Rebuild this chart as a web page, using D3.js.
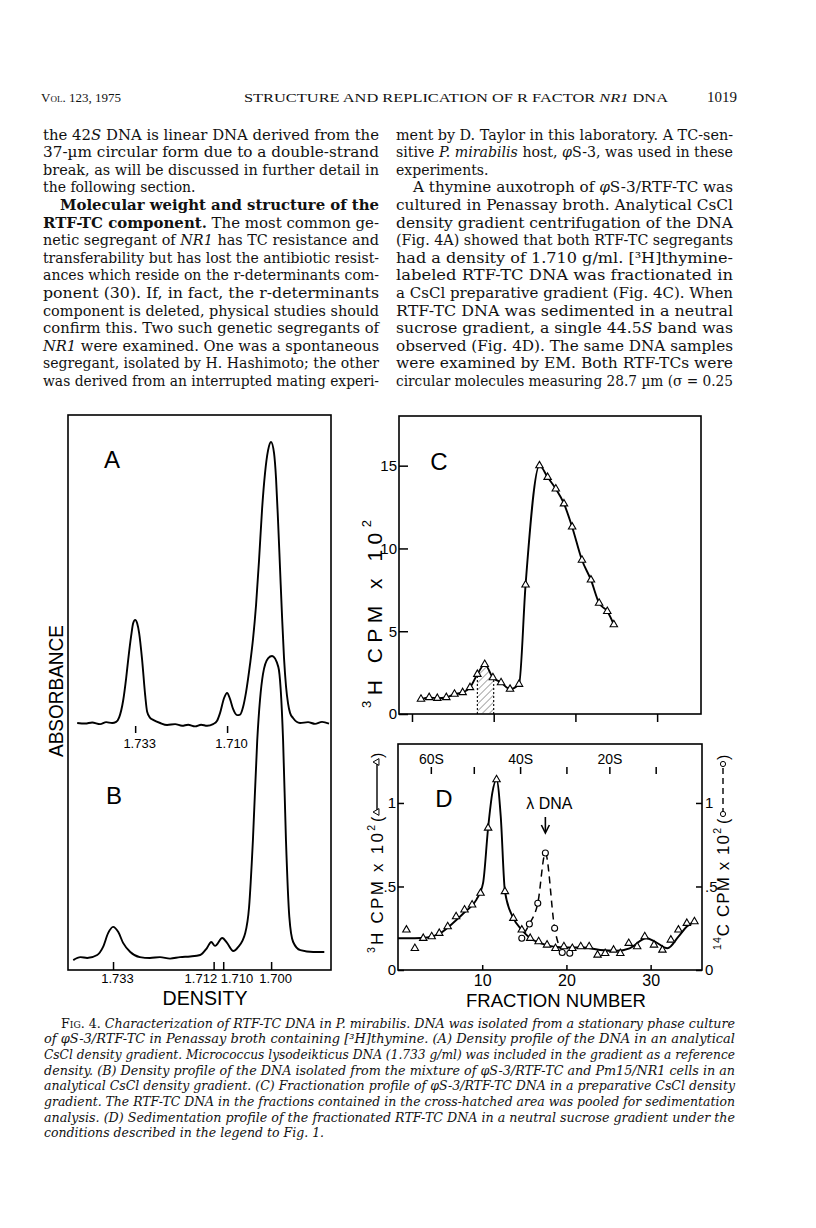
<!DOCTYPE html>
<html>
<head>
<meta charset="utf-8">
<script src="https://cdn.jsdelivr.net/npm/d3@7"></script>
<style>
  body { margin: 0; background: #fff; }
  svg { display: block; }
</style>
</head>
<body>
<div id="page"></div>
<script>
"use strict";

// ---------- panel A: analytical CsCl scan (density g/ml, absorbance in arbitrary units)
var scanADensity = [1.7475, 1.7455, 1.74375, 1.74175, 1.74025, 1.73875, 1.73775, 1.737, 1.736, 1.73525,
    1.73475, 1.734, 1.7335, 1.733, 1.7325, 1.732, 1.73125, 1.7305, 1.730, 1.72925, 1.7285, 1.72675, 1.725,
    1.723, 1.72125, 1.71975, 1.718, 1.7165, 1.715, 1.7135, 1.7125, 1.71175, 1.71075, 1.710, 1.70925, 1.7085,
    1.7075, 1.70675, 1.706, 1.70525, 1.70425, 1.7035, 1.70275, 1.702, 1.70125, 1.7005, 1.69975, 1.699,
    1.69825, 1.69775, 1.69725, 1.69675, 1.69625, 1.69575, 1.69525, 1.69475, 1.69425, 1.6935, 1.69175,
    1.68975, 1.688, 1.68625, 1.6845];
var scanAAbs = [0.000, -0.002, 0.002, -0.004, 0.003, 0.000, 0.004, 0.02, 0.08, 0.16,
    0.224, 0.31, 0.355, 0.367, 0.355, 0.32, 0.224, 0.10, 0.04, 0.018, 0.011, 0.000, -0.007,
    -0.004, -0.010, -0.006, -0.012, -0.006, -0.010, -0.004, 0.008, 0.036, 0.089, 0.107, 0.085, 0.05,
    0.028, 0.03, 0.057, 0.11, 0.21, 0.30, 0.42, 0.58, 0.76, 0.89, 0.97, 1.0,
    0.96, 0.87, 0.72, 0.55, 0.38, 0.23, 0.13, 0.07, 0.036, 0.018, 0.000,
    0.003, -0.003, 0.004, -0.002];
var scanAMarks = [1.733, 1.710];

// ---------- panel B: mixture of the two strains
var scanBDensity = [1.7413, 1.7398, 1.7384, 1.7363, 1.7351, 1.7340, 1.7330, 1.7319, 1.7309, 1.7294,
    1.7274, 1.7253, 1.7232, 1.7211, 1.7190, 1.7169, 1.7148, 1.7134, 1.7125, 1.7117, 1.7102, 1.7092,
    1.7079, 1.7069, 1.7054, 1.7046, 1.7038, 1.7029, 1.7017, 1.7006, 1.6998, 1.6985, 1.6975, 1.6969,
    1.6962, 1.6954, 1.6939, 1.6912, 1.6889];
var scanBAbs = [-0.007, 0.003, 0.000, 0.010, 0.036, 0.083, 0.103, 0.086, 0.050, 0.020,
    0.003, 0.000, 0.003, -0.002, 0.003, 0.005, 0.010, 0.033, 0.053, 0.040, 0.066, 0.050,
    0.023, 0.036, 0.083, 0.169, 0.39, 0.72, 0.94, 0.993, 1.0, 0.964, 0.72, 0.39,
    0.136, 0.053, 0.026, 0.020, 0.020];
var scanBMarks = [1.733, 1.712, 1.710, 1.700];

// ---------- panel C: preparative CsCl gradient, 3H cpm x 10^2
var fracC = [1.1, 2.1, 3.1, 4.2, 5.2, 6.2, 7.1, 8.0, 8.9, 9.9, 10.9, 12.0, 13.1, 13.9, 15.6, 16.6,
    17.6, 18.6, 19.6, 20.8, 21.9, 22.9, 23.9, 24.7];
var cpmC = [0.9, 1.0, 0.95, 1.0, 1.2, 1.3, 1.6, 2.4, 3.0, 2.2, 1.9, 1.5, 1.8, 7.8, 15.0, 14.3,
    13.6, 12.7, 11.3, 9.3, 8.1, 6.7, 6.2, 5.4];
var pooledFractions = [8, 10];
var ticksC = [0, 10, 20, 30];
var yTicksC = [0, 5, 10, 15];

// ---------- panel D: neutral sucrose gradient
var fracD3H = [1.0, 2.0, 3.0, 4.0, 4.9, 5.9, 6.9, 7.9, 8.8, 9.8, 10.7, 11.7, 12.7, 13.7, 14.7, 15.7,
    16.7, 17.7, 18.7, 19.7, 20.7, 21.7, 22.7, 23.7, 24.6, 25.6, 26.4, 27.4, 28.4, 29.3, 30.4, 31.4,
    32.4, 33.3, 34.3, 35.2];
var cpmD3H = [0.24, 0.13, 0.19, 0.20, 0.22, 0.26, 0.32, 0.36, 0.39, 0.46, 0.85, 1.14, 0.47, 0.31, 0.24, 0.19,
    0.17, 0.15, 0.13, 0.14, 0.13, 0.14, 0.14, 0.09, 0.10, 0.12, 0.10, 0.16, 0.14, 0.20, 0.15, 0.12,
    0.18, 0.24, 0.28, 0.29];
// the hand drawn smooth curve through the 3H points
var fitD3HFrac = [0, 2, 3.5, 5, 6.5, 8, 9.3, 10.1, 10.7, 11.2, 11.7, 12.2, 12.7, 13.7, 14.7, 15.7, 17,
    18.5, 20, 22, 24, 26, 27.5, 29.5, 30.5, 32, 33.3, 34.3, 35.2];
var fitD3H = [0.19, 0.19, 0.195, 0.22, 0.28, 0.35, 0.42, 0.52, 0.85, 1.06, 1.14, 0.92, 0.47, 0.31, 0.24, 0.19, 0.16,
    0.14, 0.135, 0.135, 0.12, 0.115, 0.13, 0.19, 0.17, 0.13, 0.2, 0.26, 0.29];
var fracD14C = [14.7, 15.6, 16.6, 17.5, 18.6, 19.5, 20.4];
var cpmD14C = [0.19, 0.275, 0.40, 0.70, 0.25, 0.105, 0.10];
var fitD14CFrac = [15.0, 15.6, 16.6, 17.5, 18.6, 19.2];
var fitD14C = [0.22, 0.275, 0.40, 0.70, 0.25, 0.13];
var sMarkFractions = [3.9, 9.0, 14.5, 20.0, 25.1, 30.6];
var sMarkLabels = ["60S", "", "40S", "", "20S", ""];
var ticksD = [10, 20, 30];
var yTicksD = [0, 0.5, 1];

// ---------- page text  (**bold**, *italic*, ^small caps^, "> " indent, trailing ¶ = not justified)
var headerLeft = "^Vol.^ 123, 1975";
var headerTitle = "STRUCTURE AND REPLICATION OF R FACTOR *NR1* DNA";
var headerPage = "1019";
var leftColumn = [
    "the 42*S* DNA is linear DNA derived from the",
    "37-µm circular form due to a double-strand",
    "break, as will be discussed in further detail in",
    "the following section.¶",
    "> **Molecular weight and structure of the**",
    "**RTF-TC component.** The most common ge-",
    "netic segregant of *NR1* has TC resistance and",
    "transferability but has lost the antibiotic resist-",
    "ances which reside on the r-determinants com-",
    "ponent (30). If, in fact, the r-determinants",
    "component is deleted, physical studies should",
    "confirm this. Two such genetic segregants of",
    "*NR1* were examined. One was a spontaneous",
    "segregant, isolated by H. Hashimoto; the other",
    "was derived from an interrupted mating experi-"
];
var rightColumn = [
    "ment by D. Taylor in this laboratory. A TC-sen-",
    "sitive *P. mirabilis* host, *φ*S-3, was used in these",
    "experiments.¶",
    "> A thymine auxotroph of *φ*S-3/RTF-TC was",
    "cultured in Penassay broth. Analytical CsCl",
    "density gradient centrifugation of the DNA",
    "(Fig. 4A) showed that both RTF-TC segregants",
    "had a density of 1.710 g/ml. [³H]thymine-",
    "labeled RTF-TC DNA was fractionated in",
    "a CsCl preparative gradient (Fig. 4C). When",
    "RTF-TC DNA was sedimented in a neutral",
    "sucrose gradient, a single 44.5*S* band was",
    "observed (Fig. 4D). The same DNA samples",
    "were examined by EM. Both RTF-TCs were",
    "circular molecules measuring 28.7 µm (σ = 0.25"
];
var caption = [
    "> ^Fig. 4.^ Characterization of RTF-TC DNA in P. mirabilis. DNA was isolated from a stationary phase culture",
    "of φS-3/RTF-TC in Penassay broth containing [³H]thymine. (A) Density profile of the DNA in an analytical",
    "CsCl density gradient. Micrococcus lysodeikticus DNA (1.733 g/ml) was included in the gradient as a reference",
    "density. (B) Density profile of the DNA isolated from the mixture of φS-3/RTF-TC and Pm15/NR1 cells in an",
    "analytical CsCl density gradient. (C) Fractionation profile of φS-3/RTF-TC DNA in a preparative CsCl density",
    "gradient. The RTF-TC DNA in the fractions contained in the cross-hatched area was pooled for sedimentation",
    "analysis. (D) Sedimentation profile of the fractionated RTF-TC DNA in a neutral sucrose gradient under the",
    "conditions described in the legend to Fig. 1.¶"
];

// ================================================================ drawing
var W = 816, H = 1228;
var serif = "'DejaVu Serif', serif";
var times = "'Liberation Serif', serif";
var sans = "'Liberation Sans', Arial, sans-serif";

var svg = d3.select("#page").append("svg")
    .attr("width", W)
    .attr("height", H)
    .style("background", "#fff");

// one line of typeset text, optionally justified with textLength
function textLine(g, x, y, width, line, opt) {
    var indent = 0, justify = true, s = line;
    if (s.indexOf("> ") === 0) { indent = 17; s = s.slice(2); }
    if (s.slice(-1) === "¶") { justify = false; s = s.slice(0, -1); }
    var t = g.append("text")
        .attr("x", x + indent)
        .attr("y", y)
        .attr("font-family", opt.family)
        .attr("font-size", opt.size)
        .attr("font-style", opt.italic ? "italic" : "normal")
        .attr("fill", "#111");
    s.split(/(\*\*[^*]+\*\*|\*[^*]+\*|\^[^^]+\^)/).forEach(function(part) {
        if (!part) return;
        var ts = t.append("tspan");
        if (part.indexOf("**") === 0) {
            ts.attr("font-weight", "bold").text(part.slice(2, -2));
        } else if (part[0] === "*") {
            ts.attr("font-style", opt.italic ? "normal" : "italic").text(part.slice(1, -1));
        } else if (part[0] === "^") {
            ts.attr("font-style", "normal").style("font-variant", "small-caps").text(part.slice(1, -1));
        } else {
            ts.text(part);
        }
    });
    if (justify && width) {
        t.attr("textLength", width - indent).attr("lengthAdjust", "spacingAndGlyphs");
    }
    return t;
}

// ---- running header
var head = svg.append("g");
textLine(head, 41, 102, 95, headerLeft + "¶", {family: times, size: 13});
textLine(head, 244, 102, 424, headerTitle, {family: times, size: 13});
head.append("text").attr("x", 737).attr("y", 102).attr("text-anchor", "end")
    .attr("font-family", times).attr("font-size", 15).attr("fill", "#111").text(headerPage);

// ---- two text columns
var body = svg.append("g");
leftColumn.forEach(function(l, i) {
    textLine(body, 43, 139.5 + i * 17.6, 336, l, {family: serif, size: 14});
});
rightColumn.forEach(function(l, i) {
    textLine(body, 396, 139.5 + i * 17.6, 337, l, {family: serif, size: 14});
});

// ---- caption
var cap = svg.append("g");
caption.forEach(function(l, i) {
    textLine(cap, 44, 1027.5 + i * 15.7, 691, l, {family: serif, size: 12.5, italic: true});
});

// ---------- helpers for the figure
function box(x0, y0, x1, y1) {
    svg.append("rect")
        .attr("x", x0).attr("y", y0)
        .attr("width", x1 - x0).attr("height", y1 - y0)
        .attr("fill", "none").attr("stroke", "#000").attr("stroke-width", 1.6);
}

function styleAxis(g, size) {
    g.select(".domain").remove();
    g.attr("font-family", sans).attr("font-size", size);
    g.selectAll("line").attr("stroke", "#000").attr("stroke-width", 1.5);
    g.selectAll("text").attr("fill", "#000");
}

function panelLetter(x, y, s) {
    svg.append("text")
        .attr("x", x).attr("y", y)
        .attr("text-anchor", "middle")
        .attr("dominant-baseline", "central")
        .attr("font-family", sans).attr("font-size", 24)
        .text(s);
}

// rotated title; parts: [{t:"H"}, {sup:"3"}] ; returns group in rotated frame
function rotLabel(x, yStart, parts, size, len) {
    var g = svg.append("g").attr("transform", "translate(" + x + "," + yStart + ") rotate(-90)");
    var t = g.append("text")
        .attr("x", 0).attr("y", 0)
        .attr("dominant-baseline", "central")
        .attr("font-family", sans).attr("font-size", size)
        .attr("textLength", len).attr("lengthAdjust", "spacing");
    parts.forEach(function(p) {
        if (p.sup) {
            t.append("tspan").attr("font-size", size * 0.62).attr("dy", -size * 0.38).text(p.sup);
        } else {
            t.append("tspan").attr("dy", p.after ? size * 0.38 : 0).text(p.t);
        }
    });
    return g;
}

function tracePath(xs, ys, xScale, yScale, curve) {
    return d3.line()
        .x(function(d, i) { return xScale(xs[i]); })
        .y(function(d, i) { return yScale(ys[i]); })
        .curve(curve)(xs);
}

var triangle = d3.symbol().type(d3.symbolTriangle).size(24);

// ================================================================ panels A and B
var abLeft = 68, abRight = 331, abTop = 415, abBottom = 970;
box(abLeft, abTop, abRight, abBottom);

var xA = d3.scaleLinear().domain([1.7498, 1.6840]).range([abLeft, abRight]);
var yA = d3.scaleLinear().domain([0, 1]).range([723, 442]);
var xB = d3.scaleLinear().domain([1.7424, 1.6875]).range([abLeft, abRight]);
var yB = d3.scaleLinear().domain([0, 1]).range([958, 656]);

svg.append("path")
    .attr("d", tracePath(scanADensity, scanAAbs, xA, yA, d3.curveMonotoneX))
    .attr("fill", "none").attr("stroke", "#000").attr("stroke-width", 1.9)
    .attr("stroke-linejoin", "round");
svg.append("path")
    .attr("d", tracePath(scanBDensity, scanBAbs, xB, yB, d3.curveMonotoneX))
    .attr("fill", "none").attr("stroke", "#000").attr("stroke-width", 1.9)
    .attr("stroke-linejoin", "round");

// reference marks under trace A
var axA = svg.append("g")
    .attr("transform", "translate(0," + (yA(0) + 3) + ")")
    .call(d3.axisBottom(xA).tickValues(scanAMarks).tickSize(7).tickPadding(6).tickFormat(d3.format(".3f")));
styleAxis(axA, 13);
axA.selectAll("text").attr("dx", 4);

var axB = svg.append("g")
    .attr("transform", "translate(0," + abBottom + ")")
    .call(d3.axisBottom(xB).tickValues(scanBMarks).tickSize(-8).tickPadding(4).tickFormat(d3.format(".3f")));
styleAxis(axB, 13);
axB.selectAll("text").each(function(d) {
    var t = d3.select(this);
    if (d === 1.712) t.attr("text-anchor", "end").attr("dx", 3);
    else if (d === 1.710) t.attr("text-anchor", "start").attr("dx", -3);
    else t.attr("dx", 4);
});

panelLetter(112, 459, "A");
panelLetter(114, 795, "B");

svg.append("text")
    .attr("transform", "translate(56,691) rotate(-90)")
    .attr("text-anchor", "middle").attr("dominant-baseline", "central")
    .attr("font-family", sans).attr("font-size", 20)
    .attr("textLength", 132).attr("lengthAdjust", "spacingAndGlyphs")
    .text("ABSORBANCE");
svg.append("text")
    .attr("x", (abLeft + abRight) / 2 + 5.5).attr("y", 998)
    .attr("text-anchor", "middle").attr("dominant-baseline", "central")
    .attr("font-family", sans).attr("font-size", 20)
    .attr("textLength", 85).attr("lengthAdjust", "spacingAndGlyphs")
    .text("DENSITY");

// ================================================================ panel C
var cLeft = 399, cRight = 701, cTop = 416, cBottom = 714;
box(cLeft, cTop, cRight, cBottom);
var xC = d3.scaleLinear().domain([-1.59, 35.37]).range([cLeft, cRight]);
var yC = d3.scaleLinear().domain([0, 18]).range([cBottom, cTop]);

var axCy = svg.append("g")
    .attr("transform", "translate(" + cLeft + ",0)")
    .call(d3.axisLeft(yC).tickValues(yTicksC).tickSize(-9).tickPadding(2));
styleAxis(axCy, 15);
var axCx = svg.append("g")
    .attr("transform", "translate(0," + cBottom + ")")
    .call(d3.axisBottom(xC).tickValues(ticksC).tickSize(8).tickFormat(""));
styleAxis(axCx, 12);

// cross hatched pooled fractions
var defs = svg.append("defs");
var pat = defs.append("pattern")
    .attr("id", "hatch").attr("patternUnits", "userSpaceOnUse")
    .attr("width", 5).attr("height", 5)
    .attr("patternTransform", "rotate(45)");
pat.append("line").attr("x1", 0).attr("y1", 0).attr("x2", 0).attr("y2", 5)
    .attr("stroke", "#222").attr("stroke-width", 0.8);

var areaC = d3.area()
    .x(function(d, i) { return xC(fracC[i]); })
    .y0(yC(0))
    .y1(function(d, i) { return yC(cpmC[i]); })
    .curve(d3.curveMonotoneX);
defs.append("clipPath").attr("id", "underC")
    .append("path").attr("d", areaC(fracC));

var hatchG = svg.append("g").attr("clip-path", "url(#underC)");
hatchG.append("rect")
    .attr("x", xC(pooledFractions[0])).attr("y", cTop)
    .attr("width", xC(pooledFractions[1]) - xC(pooledFractions[0]))
    .attr("height", cBottom - cTop)
    .attr("fill", "url(#hatch)");
hatchG.selectAll("line.edge")
    .data(pooledFractions)
    .enter().append("line")
    .attr("class", "edge")
    .attr("x1", function(d) { return xC(d); }).attr("x2", function(d) { return xC(d); })
    .attr("y1", cTop).attr("y2", cBottom)
    .attr("stroke", "#000").attr("stroke-width", 1.1).attr("stroke-dasharray", "2,2");

svg.append("path")
    .attr("d", tracePath(fracC, cpmC, xC, yC, d3.curveMonotoneX))
    .attr("fill", "none").attr("stroke", "#000").attr("stroke-width", 1.9);
svg.append("g").selectAll("path")
    .data(fracC)
    .enter().append("path")
    .attr("d", triangle)
    .attr("transform", function(d, i) { return "translate(" + xC(d) + "," + yC(cpmC[i]) + ")"; })
    .attr("fill", "#fff").attr("stroke", "#000").attr("stroke-width", 1.1);

panelLetter(439, 461, "C");
rotLabel(374, 708, [{sup: "3"}, {t: "H CPM x 10", after: true}, {sup: "2"}], 21, 188);

// ================================================================ panel D
var dLeft = 398, dRight = 702, dTop = 744, dBottom = 970;
box(dLeft, dTop, dRight, dBottom);
var xD = d3.scaleLinear().domain([0, 36.1]).range([dLeft, dRight]);
var yD = d3.scaleLinear().domain([0, 1.353]).range([dBottom, dTop]);
var fmtD = function(d) { return d === 0 ? "0" : d === 1 ? "1" : ".5"; };

var axDl = svg.append("g")
    .attr("transform", "translate(" + dLeft + ",0)")
    .call(d3.axisLeft(yD).tickValues(yTicksD).tickSize(-6).tickPadding(2).tickFormat(fmtD));
styleAxis(axDl, 15);
var axDr = svg.append("g")
    .attr("transform", "translate(" + dRight + ",0)")
    .call(d3.axisRight(yD).tickValues(yTicksD).tickSize(-6).tickPadding(3).tickFormat(fmtD));
styleAxis(axDr, 15);
var axDb = svg.append("g")
    .attr("transform", "translate(0," + dBottom + ")")
    .call(d3.axisBottom(xD).tickValues(ticksD).tickSize(-5).tickPadding(5));
styleAxis(axDb, 16);

// sedimentation coefficient markers along the top
var axDs = svg.append("g")
    .attr("transform", "translate(0,774)")
    .call(d3.axisTop(xD).tickValues(sMarkFractions).tickSize(7).tickPadding(3)
        .tickFormat(function(d, i) { return sMarkLabels[i]; }));
styleAxis(axDs, 14);

svg.append("path")
    .attr("d", tracePath(fitD14CFrac, fitD14C, xD, yD, d3.curveMonotoneX))
    .attr("fill", "none").attr("stroke", "#000").attr("stroke-width", 1.5)
    .attr("stroke-dasharray", "7,5");
svg.append("path")
    .attr("d", tracePath(fitD3HFrac, fitD3H, xD, yD, d3.curveMonotoneX))
    .attr("fill", "none").attr("stroke", "#000").attr("stroke-width", 1.9);

svg.append("g").selectAll("circle")
    .data(fracD14C)
    .enter().append("circle")
    .attr("cx", function(d) { return xD(d); })
    .attr("cy", function(d, i) { return yD(cpmD14C[i]); })
    .attr("r", 3)
    .attr("fill", "#fff").attr("stroke", "#000").attr("stroke-width", 1.1);
svg.append("g").selectAll("path")
    .data(fracD3H)
    .enter().append("path")
    .attr("d", triangle)
    .attr("transform", function(d, i) { return "translate(" + xD(d) + "," + yD(cpmD3H[i]) + ")"; })
    .attr("fill", "#fff").attr("stroke", "#000").attr("stroke-width", 1.1);

// lambda DNA marker over the 14C peak
var lambdaX = xD(fracD14C[d3.maxIndex(cpmD14C)]);
svg.append("text")
    .attr("x", lambdaX + 4).attr("y", 803)
    .attr("text-anchor", "middle").attr("dominant-baseline", "central")
    .attr("font-family", sans).attr("font-size", 17)
    .attr("textLength", 46).attr("lengthAdjust", "spacingAndGlyphs")
    .text("λ DNA");
svg.append("line")
    .attr("x1", lambdaX).attr("x2", lambdaX).attr("y1", 817).attr("y2", 832)
    .attr("stroke", "#000").attr("stroke-width", 1.6);
svg.append("path")
    .attr("d", "M" + (lambdaX - 4) + ",825 L" + lambdaX + ",833 L" + (lambdaX + 4) + ",825")
    .attr("fill", "none").attr("stroke", "#000").attr("stroke-width", 1.6);

panelLetter(444, 798, "D");
svg.append("text")
    .attr("x", 556).attr("y", 1000)
    .attr("text-anchor", "middle").attr("dominant-baseline", "central")
    .attr("font-family", sans).attr("font-size", 19)
    .attr("textLength", 180).attr("lengthAdjust", "spacingAndGlyphs")
    .text("FRACTION NUMBER");

// y titles with their little line-style keys
function keyAfter(g, start, dashed) {
    g.append("text").attr("x", start).attr("y", 0).attr("dominant-baseline", "central")
        .attr("font-family", sans).attr("font-size", 16).text("(");
    g.append("line")
        .attr("x1", start + 10).attr("x2", start + 60).attr("y1", 0).attr("y2", 0)
        .attr("stroke", "#000").attr("stroke-width", 1.4)
        .attr("stroke-dasharray", dashed ? "6,4" : null);
    [start + 10, start + 60].forEach(function(u) {
        if (dashed) {
            g.append("circle").attr("cx", u).attr("cy", 0).attr("r", 2.6)
                .attr("fill", "#fff").attr("stroke", "#000").attr("stroke-width", 1);
        } else {
            g.append("path").attr("d", d3.symbol().type(d3.symbolTriangle).size(20))
                .attr("transform", "translate(" + u + ",0)")
                .attr("fill", "#fff").attr("stroke", "#000").attr("stroke-width", 1);
        }
    });
    g.append("text").attr("x", start + 64).attr("y", 0).attr("dominant-baseline", "central")
        .attr("font-family", sans).attr("font-size", 16).text(")");
}
var labL = rotLabel(377, 953, [{sup: "3"}, {t: "H CPM x 10", after: true}, {sup: "2"}], 17, 128);
keyAfter(labL, 131, false);
var labR = rotLabel(723, 950, [{sup: "14"}, {t: "C CPM x 10", after: true}, {sup: "2"}], 17, 122);
keyAfter(labR, 126, true);
</script>
</body>
</html>
